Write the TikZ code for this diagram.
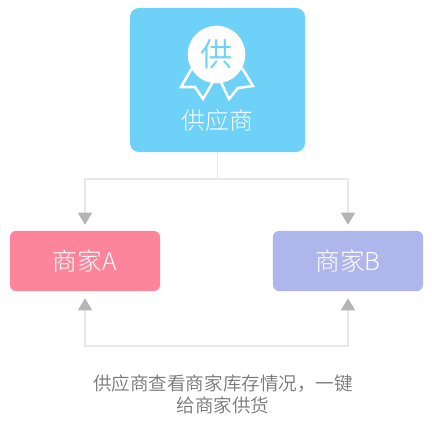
\documentclass[tikz,border=0pt]{standalone}
\usepackage{fontspec}
\setmainfont[UprightFont=* DemiLight]{Noto Sans CJK SC}
\newfontfamily\thinfont[UprightFont=* Light]{Noto Sans CJK SC}
\usetikzlibrary{arrows.meta}
\definecolor{supplierBlue}{HTML}{6DD1F8}
\definecolor{merchantPink}{HTML}{FC859C}
\definecolor{merchantPurple}{HTML}{AFB6EB}
\definecolor{linkGray}{HTML}{E8E8E8}
\definecolor{tipGray}{HTML}{B5B5B5}
\definecolor{noteGray}{HTML}{777777}
\begin{document}
\begin{tikzpicture}[
        x=0.025cm, y=-0.025cm,
        merchant/.style={rounded corners=0.15cm, minimum width=3.75cm, minimum height=1.5cm, text=white, font=\thinfont\fontsize{17.6}{21}\selectfont},
        link/.style={draw=linkGray, line width=0.9pt, -{Triangle[length=0.3cm, width=0.35cm, color=tipGray]}},
        ribbon/.style={draw=white, line width=1.8pt, line join=miter}
    ]
        \useasboundingbox (0,0) rectangle (432,426);

        \node[fill=supplierBlue, rounded corners=0.225cm, minimum width=4.375cm, minimum height=3.6cm] (supplier) at (217.5,80) {};
        \draw[ribbon] (192,68) -- (181,87) -- (195,87) -- (203,99) -- (214,80);
        \draw[ribbon] (242,68) -- (253,86) -- (238,88) -- (229,99) -- (220,80);
        \node[fill=white, circle, minimum size=1.44cm, inner sep=0pt, text=supplierBlue, font=\fontsize{23}{26}\selectfont] (badge) at (216.5,54.5) {供};
        \node[text=white, font=\thinfont\fontsize{17}{20}\selectfont, inner sep=0pt] (supplierName) at (217.5,120.5) {供应商};

        \node[merchant, fill=merchantPink] (merchantA) at (85,261) {\raisebox{1pt}{商家A}};
        \node[merchant, fill=merchantPurple] (merchantB) at (348,261) {\raisebox{1pt}{商家B}};
        \node[align=center, text=noteGray, inner sep=0pt, font=\fontsize{13.2}{16}\selectfont] (note) at (223,394.5) {供应商查看商家库存情况，一键\\给商家供货};

        \coordinate (topJoint) at (217.5,179);
        \coordinate (bottomJoint) at (217.5,346);

        \draw[linkGray, line width=0.9pt] (supplier.south) -- (topJoint);
        \draw[link, shorten >=0.15cm] (topJoint) -| (merchantA.north);
        \draw[link, shorten >=0.15cm] (topJoint) -| (merchantB.north);
        \draw[link, shorten >=0.175cm] (bottomJoint) -| (merchantA.south);
        \draw[link, shorten >=0.175cm] (bottomJoint) -| (merchantB.south);
    \end{tikzpicture}
\end{document}
